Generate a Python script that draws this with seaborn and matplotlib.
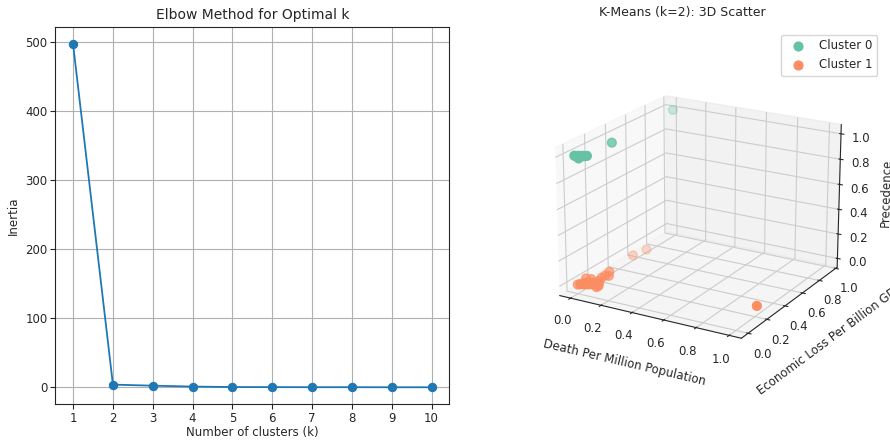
import matplotlib

matplotlib.use("Agg")
import matplotlib.pyplot as plt
import pandas as pd
import seaborn as sns

# elbow curve
K_VALUES = [1, 2, 3, 4, 5, 6, 7, 8, 9, 10]
INERTIA = [496.0, 4.0, 2.5, 1.2, 0.5, 0.4, 0.3, 0.3, 0.2, 0.2]

# normalised features per cluster
C0_DEATH = [0.00, 0.01, 0.02, 0.03, 0.04, 0.05, 0.06, 0.02, 0.05, 0.02]
C0_LOSS = [0.00, 0.00, 0.01, 0.01, 0.02, 0.02, 0.03, 0.01, 0.28, 0.95]
C0_PREC = [1.00, 1.00, 1.00, 1.00, 1.00, 1.00, 1.00, 0.98, 1.00, 1.00]

C1_DEATH = [0.00, 0.01, 0.02, 0.03, 0.04, 0.05, 0.06, 0.07, 0.08, 0.09, 0.10, 0.11,
            0.02, 0.04, 0.06, 0.08, 0.09, 0.10, 0.03, 0.07, 0.11, 0.11, 0.10,
            0.03, 0.07, 1.00]
C1_LOSS = [0.00, 0.01, 0.00, 0.02, 0.01, 0.03, 0.02, 0.04, 0.03, 0.05, 0.06, 0.04,
           0.05, 0.07, 0.06, 0.08, 0.10, 0.12, 0.02, 0.01, 0.02, 0.14, 0.16,
           0.50, 0.58, 0.22]
C1_PREC = [0.00, 0.00, 0.01, 0.00, 0.02, 0.00, 0.01, 0.00, 0.02, 0.00, 0.01, 0.00,
           0.03, 0.02, 0.00, 0.01, 0.03, 0.04, 0.00, 0.02, 0.00, 0.03, 0.05,
           0.00, 0.02, 0.00]

CLUSTER_LABELS = ["Cluster 0", "Cluster 1"]


def main() -> None:
    sns.set_style("ticks")
    palette = sns.color_palette("Set2", 2)

    fig = plt.figure(figsize=(8.9, 4.41), dpi=100)

    ax = fig.add_axes([0.062, 0.083, 0.443, 0.855])
    elbow = pd.DataFrame({"k": K_VALUES, "inertia": INERTIA})
    sns.lineplot(data=elbow, x="k", y="inertia", marker="o", markeredgecolor="#1f77b4",
                 color="#1f77b4", markersize=6, linewidth=1.3, ax=ax)
    ax.set_xticks(K_VALUES)
    ax.grid(True, color="#b0b0b0", linewidth=0.8)
    ax.set_title("Elbow Method for Optimal k", fontsize=10)
    ax.set_xlabel("Number of clusters (k)", fontsize=8.5, labelpad=1)
    ax.set_ylabel("Inertia", fontsize=8.5)
    ax.tick_params(labelsize=8.5, pad=2)

    ax3 = fig.add_axes([0.603, 0.115, 0.36, 0.8], projection="3d")
    clusters = [
        (C0_DEATH, C0_LOSS, C0_PREC),
        (C1_DEATH, C1_LOSS, C1_PREC),
    ]
    for label, color, (xs, ys, zs) in zip(CLUSTER_LABELS, palette, clusters):
        ax3.scatter(xs, ys, zs, color=color, s=40, label=label)
    ax3.view_init(elev=20, azim=-60)
    # 3D axes place their title oddly, so anchor it in figure coordinates
    ax3.text2D(0.767, 0.972, "K-Means (k=2): 3D Scatter", transform=fig.transFigure,
               ha="center", va="center", fontsize=9)
    ax3.set_xlabel("Death Per Million Population", fontsize=8.5, labelpad=4)
    ax3.set_ylabel("Economic Loss Per Billion GDP", fontsize=8.5, labelpad=4)
    ax3.set_zlabel("Precedence", fontsize=8.5, labelpad=0)
    ax3.tick_params(labelsize=8.5, pad=1)
    ax3.legend(loc="upper right", fontsize=8.5, bbox_to_anchor=(0.992, 0.935),
               bbox_transform=fig.transFigure)

    fig.savefig("out.png", dpi=100)
    plt.close(fig)


if __name__ == "__main__":
    main()
